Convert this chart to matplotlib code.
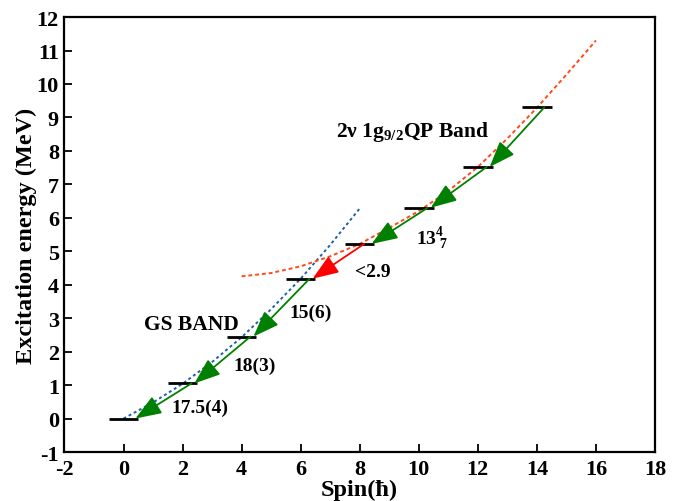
import matplotlib
matplotlib.use('Agg')
import matplotlib.pyplot as plt

plt.rcParams['font.family'] = ['Liberation Serif', 'DejaVu Serif']
plt.rcParams['font.weight'] = 'bold'
plt.rcParams['axes.unicode_minus'] = False
plt.rcParams['mathtext.fontset'] = 'custom'
plt.rcParams['mathtext.rm'] = 'Liberation Serif:bold'
plt.rcParams['mathtext.it'] = 'Liberation Serif:bold'
plt.rcParams['mathtext.bf'] = 'Liberation Serif:bold'

# level scheme (spin in hbar, energy in MeV)
level_spins = [0, 2, 4, 6, 8, 10, 12, 14]
level_energies = [0.0, 1.05, 2.45, 4.18, 5.22, 6.30, 7.52, 9.30]

# transitions: (upper level index, lower level index)
transitions = [(1, 0), (2, 1), (3, 2), (4, 3), (5, 4), (6, 5), (7, 6)]
transition_colors = ['green', 'green', 'green', 'red', 'green', 'green', 'green']
transition_labels = ['17.5(4)', '18(3)', '15(6)', '<2.9', r'13$^{\mathbf{4}}_{\mathbf{\ 7}}$', '', '']

# GS band fit (blue dotted)
gs_spin = [0, 1, 2, 3, 4, 5, 6, 7, 8]
gs_energy = [0.0, 0.48, 1.04, 1.69, 2.43, 3.27, 4.18, 5.19, 6.28]

# 2qp band fit (red dashed)
qp_spin = [4, 5, 6, 7, 8, 9, 10, 11, 12, 13, 14, 15, 16]
qp_energy = [4.25, 4.35, 4.55, 4.85, 5.22, 5.70, 6.20, 6.80, 7.52, 8.37, 9.29, 10.28, 11.30]

fig = plt.figure(figsize=(6.83, 5.02), dpi=100)
ax = fig.add_axes([0.0944, 0.0976, 0.8646, 0.8664])

ax.plot(gs_spin, gs_energy, color='#1f5fa8', ls=(0, (1.5, 1.5)), lw=1.4, zorder=2)
ax.plot(qp_spin, qp_energy, color='#ff4a1a', ls=(0, (2.0, 1.5)), lw=1.4, zorder=2)

ax.hlines(level_energies, [s - 0.5 for s in level_spins], [s + 0.5 for s in level_spins],
          color='black', lw=2.0, zorder=4)

label_pos = [(2.6, 0.33), (4.45, 1.6), (6.35, 3.17), (8.45, 4.4), (10.45, 5.4)]
for k, (hi, lo) in enumerate(transitions):
    tail_off = 0.25 if hi == 7 else 0.3
    if transition_colors[k] == 'red':
        tail_off = 0.15
    tail = (level_spins[hi] + tail_off, level_energies[hi])
    tip = (level_spins[lo] + 0.4, level_energies[lo])
    ax.annotate('', xy=tip, xytext=tail,
                arrowprops=dict(arrowstyle='-|>,head_length=1.6,head_width=0.6',
                                mutation_scale=10, color=transition_colors[k], lw=1.3,
                                shrinkA=0, shrinkB=0), zorder=5)
    if transition_labels[k]:
        ax.text(label_pos[k][0], label_pos[k][1], transition_labels[k],
                fontsize=14, ha='center', va='center')

ax.text(2.3, 2.84, 'GS BAND', fontsize=15.5, ha='center', va='center')
ax.text(9.8, 8.6, r'2ν 1g$_{\mathbf{9/2}}$QP Band', fontsize=15.5, ha='center', va='center')

ax.set_xlim(-2, 18)
ax.set_ylim(-1, 12)
ax.set_xticks(range(-2, 19, 2))
ax.set_yticks(range(-1, 13))
ax.tick_params(direction='in', length=6, width=1.3, labelsize=16,
               top=False, right=False)
ax.tick_params(axis='x', pad=5)
ax.tick_params(axis='y', pad=4)
for lab in ax.get_xticklabels() + ax.get_yticklabels():
    lab.set_fontweight('bold')
for sp in ax.spines.values():
    sp.set_linewidth(1.6)

ax.set_xlabel('Spin(ħ)', fontsize=17.5, fontweight='bold', labelpad=0)
ax.set_ylabel('Excitation energy (MeV)', fontsize=17.5, fontweight='bold', labelpad=0)

fig.savefig('out.png', dpi=100)
